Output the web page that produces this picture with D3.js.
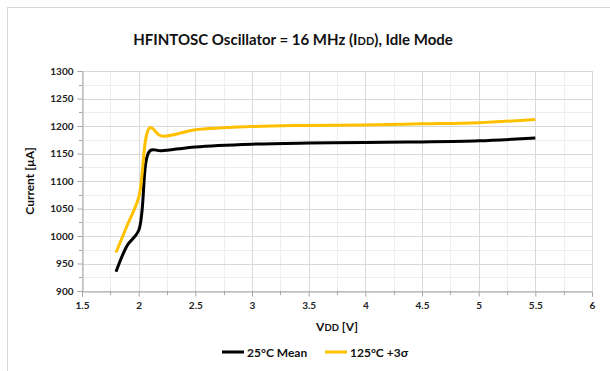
<!DOCTYPE html>
<html><head><meta charset="utf-8">
<script src="https://cdn.jsdelivr.net/npm/d3@7"></script>
<style>body{margin:0;background:#fff}text{font-family:Lato,"Open Sans",sans-serif}</style>
</head><body><svg id="c" width="610" height="371"></svg>
<script>
const vdd = [1.8, 1.9, 2.0, 2.1, 2.2, 2.5, 3.0, 3.5, 4.0, 4.5, 5.0, 5.5];
const mean25 = [935, 983, 1010, 1155, 1155, 1162, 1167, 1169, 1170, 1171, 1173, 1178];
const sigma125 = [970, 1020, 1070, 1197, 1182, 1193, 1199, 1201, 1202, 1204, 1206, 1212];
const xTicks = [1.5, 2, 2.5, 3, 3.5, 4, 4.5, 5, 5.5, 6];
const yTicks = [900, 950, 1000, 1050, 1100, 1150, 1200, 1250, 1300];
const seriesNames = ["25°C Mean", "125°C +3σ"];
const seriesColors = ["#000000", "#FFC000"];

const svg = d3.select("#c");
svg.append("rect").attr("x",7.5).attr("y",7.5).attr("width",620).attr("height",380)
  .attr("fill","#fff").attr("stroke","#d9d9d9");

const x = d3.scaleLinear().domain([1.5,6]).range([82,592]);
const y = d3.scaleLinear().domain([900,1300]).range([291,71]);

// minor grid
const xMinor = d3.range(1.75, 6, 0.5);
const yMinor = d3.range(925, 1300, 50);
const g = svg.append("g");
g.selectAll(".xm").data(xMinor).join("line").attr("x1",d=>Math.round(x(d))+.5).attr("x2",d=>Math.round(x(d))+.5)
  .attr("y1",71).attr("y2",291).attr("stroke","#eeeeee");
g.selectAll(".ym").data(yMinor).join("line").attr("y1",d=>Math.round(y(d))+.5).attr("y2",d=>Math.round(y(d))+.5)
  .attr("x1",82).attr("x2",592).attr("stroke","#eeeeee");
g.selectAll(".xM").data(xTicks).join("line").attr("x1",d=>Math.round(x(d))+.5).attr("x2",d=>Math.round(x(d))+.5)
  .attr("y1",71).attr("y2",291).attr("stroke","#d9d9d9");
g.selectAll(".yM").data(yTicks).join("line").attr("y1",d=>Math.round(y(d))+.5).attr("y2",d=>Math.round(y(d))+.5)
  .attr("x1",82).attr("x2",592).attr("stroke","#d9d9d9");

// axes
const xAxis = svg.append("g").attr("transform","translate(0,291.5)")
  .call(d3.axisBottom(x).tickValues(xTicks).tickSize(5).tickPadding(5).tickFormat(d3.format("")));
const yAxis = svg.append("g").attr("transform","translate(82.5,0)")
  .call(d3.axisLeft(y).tickValues(yTicks).tickSize(5).tickPadding(4).tickFormat(d3.format("d")));
[xAxis,yAxis].forEach(a=>{
  a.select(".domain").attr("stroke","#a6a6a6");
  a.selectAll(".tick line").attr("stroke","#a6a6a6");
  a.selectAll("text").attr("font-size",10).attr("font-weight","bold").attr("fill","#222");
});
svg.append("g").selectAll("line").data(xMinor).join("line")
  .attr("x1",d=>Math.round(x(d))+.5).attr("x2",d=>Math.round(x(d))+.5).attr("y1",291).attr("y2",295).attr("stroke","#a6a6a6");
svg.append("g").selectAll("line").data(yMinor).join("line")
  .attr("y1",d=>Math.round(y(d))+.5).attr("y2",d=>Math.round(y(d))+.5).attr("x1",79).attr("x2",82).attr("stroke","#a6a6a6");

// lines
const line = d3.line().x((d,i)=>x(vdd[i])).y(d=>y(d)).curve(d3.curveCatmullRom.alpha(0.5));
[mean25, sigma125].forEach((s,k)=>{
  svg.append("path").datum(s).attr("d",line).attr("fill","none")
    .attr("stroke",seriesColors[k]).attr("stroke-width",3).attr("stroke-linejoin","round");
});

// title
const t = svg.append("text").attr("x",293).attr("y",45).attr("text-anchor","middle")
  .attr("font-size",15).attr("font-weight","bold").attr("fill","#111");
t.append("tspan").text("HFINTOSC Oscillator = 16 MHz (I");
t.append("tspan").attr("font-size",11).text("DD");
t.append("tspan").text("), Idle Mode");

// axis titles
svg.append("text").attr("transform","translate(34,181) rotate(-90)").attr("text-anchor","middle")
  .attr("font-size",12).attr("font-weight","bold").attr("fill","#111").text("Current [µA]");
const xl = svg.append("text").attr("x",337).attr("y",331).attr("text-anchor","middle")
  .attr("font-size",12).attr("font-weight","bold").attr("fill","#111");
xl.append("tspan").text("V");
xl.append("tspan").attr("font-size",9.5).text("DD");
xl.append("tspan").text(" [V]");

// legend
const legX = [222, 325];
seriesNames.forEach((n,k)=>{
  svg.append("line").attr("x1",legX[k]).attr("x2",legX[k]+22).attr("y1",352).attr("y2",352)
    .attr("stroke",seriesColors[k]).attr("stroke-width",3);
  svg.append("text").attr("x",legX[k]+25).attr("y",356.5).attr("font-size",12).attr("font-weight","bold")
    .attr("fill","#111").text(n);
});
</script></body></html>
